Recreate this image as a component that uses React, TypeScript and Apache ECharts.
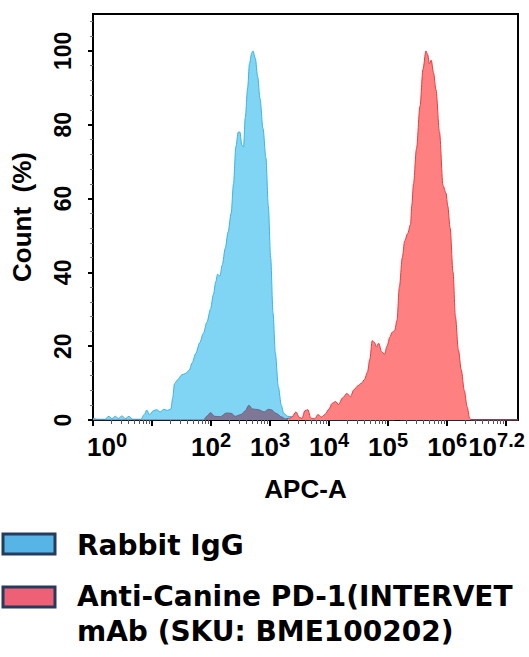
import React, { useEffect, useRef } from "react";
import * as echarts from "echarts";

// x values are log10(APC-A), y values are Count (%)
const rabbitIgG: [number, number][] = [
  [0, 0.5], [0.08, 0.2], [0.2, 0.2], [0.27, 1.0], [0.32, 0.4], [0.38, 1.0], [0.43, 0.4], [0.49, 1.1],
  [0.55, 0.4], [0.61, 1.0], [0.67, 0.2], [0.81, 0.2], [0.87, 1.5], [0.91, 2.7], [0.96, 1.4], [1.02, 2.5],
  [1.08, 2.8], [1.14, 2.2], [1.2, 2.9], [1.26, 2.6], [1.32, 3.0], [1.35, 6.0], [1.38, 9.8], [1.44, 11],
  [1.5, 12.2], [1.57, 12.6], [1.63, 13.5], [1.68, 15.5], [1.74, 18], [1.81, 21], [1.87, 23.5], [1.93, 26.5],
  [1.99, 30], [2.04, 34], [2.08, 37.5], [2.11, 39.5], [2.15, 39], [2.19, 42], [2.24, 46.5], [2.29, 51],
  [2.34, 56], [2.38, 64], [2.42, 74], [2.46, 78], [2.49, 78], [2.52, 74.5], [2.55, 74], [2.58, 82],
  [2.62, 90], [2.65, 96.5], [2.69, 99.5], [2.71, 100], [2.75, 98], [2.79, 93], [2.83, 87], [2.88, 79],
  [2.93, 71], [2.97, 58], [3.01, 44], [3.05, 29], [3.09, 18], [3.14, 9], [3.19, 4], [3.23, 1.8],
  [3.3, 1.0], [3.42, 0.9], [3.52, 0.4], [3.62, 0], [4.87, 0], [4.92, 1.0], [4.97, 0], [5.11, 0],
  [5.16, 1.2], [5.21, 0], [7.2, 0],
];

const antiCaninePD1: [number, number][] = [
  [0, 0], [1.87, 0], [1.94, 1.2], [1.99, 2.0], [2.06, 1.0], [2.16, 0.9], [2.26, 1.9], [2.34, 1.8],
  [2.41, 1.0], [2.51, 1.5], [2.58, 2.5], [2.64, 4.0], [2.7, 3.0], [2.8, 2.8], [2.9, 2.2], [2.97, 2.9],
  [3.03, 2.7], [3.1, 1.8], [3.2, 0.8], [3.26, 0.3], [3.36, 0.6], [3.44, 2.2], [3.49, 0.8], [3.54, 0.4],
  [3.59, 2.5], [3.64, 2.8], [3.69, 0.5], [3.76, 0.3], [3.81, 1.5], [3.87, 0.8], [3.93, 1.5], [4.0, 3.0],
  [4.05, 4.5], [4.11, 5.0], [4.16, 4.2], [4.23, 6.0], [4.3, 7.2], [4.36, 6.3], [4.42, 8.2], [4.49, 9.3],
  [4.55, 10], [4.6, 11], [4.65, 13], [4.69, 16.5], [4.73, 21.5], [4.77, 21], [4.8, 19.8], [4.84, 20.8],
  [4.89, 18.5], [4.94, 17.8], [4.98, 20], [5.03, 22.5], [5.07, 23.8], [5.11, 24.2], [5.15, 27], [5.19, 36],
  [5.24, 44], [5.28, 48.5], [5.33, 50.5], [5.38, 53], [5.4, 58], [5.43, 64], [5.48, 73.5], [5.54, 85],
  [5.59, 95], [5.64, 100], [5.67, 99], [5.7, 96.5], [5.73, 97.5], [5.77, 94], [5.81, 89.5], [5.87, 78],
  [5.93, 63.5], [5.98, 61.5], [6.01, 58], [6.05, 52], [6.1, 40], [6.14, 28], [6.19, 19], [6.24, 13.5],
  [6.29, 8], [6.34, 3.5], [6.38, 0.5], [6.41, 0], [7.2, 0],
];

const seriesNames = ["Rabbit IgG", "Anti-Canine PD-1(INTERVET\nmAb (SKU: BME100202)"];
const xName = "APC-A";
const yName = "Count  (%)";
const xMin = 0;
const xMax = 7.2;
const xMajorTicks = [0, 1, 2, 3, 4, 5, 6, 7];
const xLabelValues = [0, 2, 3, 4, 5, 6, 7.2];
const yMax = 110;
const yLabelValues = [0, 20, 40, 60, 80, 100];
const yMinorTicks = [4, 8, 12, 16, 24, 28, 32, 36, 44, 48, 52, 56, 64, 68, 72, 76, 84, 88, 92, 96, 104, 108];
const overlapEnd = 3.3; // red hump drawn over blue up to here

const xMinorTicks: number[] = [];
for (let d = 0; d < 7; d++) {
  for (let k = 2; k <= 9; k++) xMinorTicks.push(d + Math.log10(k));
}

const FONT = '"Liberation Sans", Arial, sans-serif';
const LEGEND_FONT = 'bold 28px "DejaVu Sans"';

export default function App() {
  const ref = useRef<HTMLDivElement>(null);
  useEffect(() => {
    if (!ref.current) return;
    const chart = echarts.init(ref.current, undefined, { renderer: "svg" });
    const split = (overlapEnd - xMin) / (xMax - xMin);
    const redFill = new echarts.graphic.LinearGradient(0, 0, 1, 0, [
      { offset: 0, color: "#7e7896" },
      { offset: split, color: "#7e7896" },
      { offset: split, color: "#ff8080" },
      { offset: 1, color: "#ff8080" },
    ]);
    const redLine = new echarts.graphic.LinearGradient(0, 0, 1, 0, [
      { offset: 0, color: "#6a6585" },
      { offset: split, color: "#6a6585" },
      { offset: split, color: "#e8393c" },
      { offset: 1, color: "#e8393c" },
    ]);
    const xLabelFmt = (v: number) => {
      if (Math.abs(v - 7.2) < 1e-6) return "{b|10}{s|7.2}{r| }";
      if (Math.abs(v) < 1e-6) return "{q| }{b|10}{s|0}";
      return `{b|10}{s|${Math.round(v)}}`;
    };
    const legendLines = seriesNames[1].split("\n");
    chart.setOption({
      animation: false,
      backgroundColor: "#fff",
      grid: {
        left: 93, right: 11, top: 14, bottom: 237,
        show: true, borderColor: "#000", borderWidth: 2, backgroundColor: "transparent",
        containLabel: false, outerBoundsMode: "none",
      },
      xAxis: [
        {
          type: "value", min: xMin, max: xMax, position: "bottom",
          name: xName, nameLocation: "middle", nameGap: 56,
          nameTextStyle: { fontFamily: FONT, fontWeight: "bold", fontSize: 26, color: "#000" },
          axisLine: { show: true, lineStyle: { color: "#000", width: 2 } },
          axisTick: { show: true, customValues: xMajorTicks, length: 6, lineStyle: { color: "#000", width: 2 } },
          axisLabel: {
            show: true, customValues: xLabelValues, margin: 10, formatter: xLabelFmt,
            hideOverlap: false,
            rich: {
              b: { fontFamily: FONT, fontWeight: "bold", fontSize: 26, color: "#000", lineHeight: 34 },
              s: { fontFamily: FONT, fontWeight: "bold", fontSize: 20, color: "#000", verticalAlign: "top", lineHeight: 20 },
              q: { width: 28, fontSize: 10 },
              r: { width: 43, fontSize: 10 },
            },
          },
          splitLine: { show: false },
        },
        {
          type: "value", min: xMin, max: xMax, position: "bottom",
          axisLine: { show: false },
          axisTick: { show: true, customValues: xMinorTicks, length: 4, lineStyle: { color: "#555", width: 1 } },
          axisLabel: { show: false },
          splitLine: { show: false },
        },
      ],
      yAxis: [
        {
          type: "value", min: 0, max: yMax, interval: 20,
          name: yName, nameLocation: "middle", nameGap: 58,
          nameTextStyle: { fontFamily: FONT, fontWeight: "bold", fontSize: 26, color: "#000" },
          axisLine: { show: true, lineStyle: { color: "#000", width: 2 } },
          axisTick: { show: true, customValues: yLabelValues, length: 5, lineStyle: { color: "#000", width: 2 } },
          axisLabel: {
            show: true, customValues: yLabelValues, rotate: 90, margin: 19,
            fontFamily: FONT, fontWeight: "bold", fontSize: 23, color: "#000",
          },
          splitLine: { show: false },
        },
        {
          type: "value", min: 0, max: yMax, position: "left",
          axisLine: { show: false },
          axisTick: { show: true, customValues: yMinorTicks, length: 3, lineStyle: { color: "#777", width: 1 } },
          axisLabel: { show: false },
          splitLine: { show: false },
        },
      ],
      series: [
        {
          type: "line", name: seriesNames[0], data: rabbitIgG, xAxisIndex: 0, yAxisIndex: 0,
          smooth: 0.3, smoothMonotone: "x", symbol: "none",
          lineStyle: { color: "#3ab3e2", width: 1 },
          areaStyle: { color: "#80d4f4", opacity: 1 },
          z: 2,
        },
        {
          type: "line", name: seriesNames[1], data: antiCaninePD1, xAxisIndex: 0, yAxisIndex: 0,
          smooth: 0.3, smoothMonotone: "x", symbol: "none",
          lineStyle: { color: redLine, width: 1 },
          areaStyle: { color: redFill, opacity: 1 },
          z: 3,
        },
      ],
      graphic: [
        { type: "rect", shape: { x: 3, y: 534, width: 52, height: 20 }, style: { fill: "#56b4e6", stroke: "#253a5c", lineWidth: 3 } },
        { type: "text", x: 77, y: 545, style: { text: seriesNames[0], font: LEGEND_FONT, fill: "#000", verticalAlign: "middle" } },
        { type: "rect", shape: { x: 3, y: 587, width: 52, height: 20 }, style: { fill: "#ee6076", stroke: "#253a5c", lineWidth: 3 } },
        { type: "text", x: 77, y: 596, style: { text: legendLines[0], font: LEGEND_FONT, fill: "#000", verticalAlign: "middle" } },
        { type: "text", x: 77, y: 631, style: { text: legendLines[1], font: LEGEND_FONT, fill: "#000", verticalAlign: "middle" } },
      ],
    });
    return () => chart.dispose();
  }, []);
  return <div ref={ref} style={{ position: "fixed", left: 0, top: 0, width: 529, height: 657 }} />;
}
